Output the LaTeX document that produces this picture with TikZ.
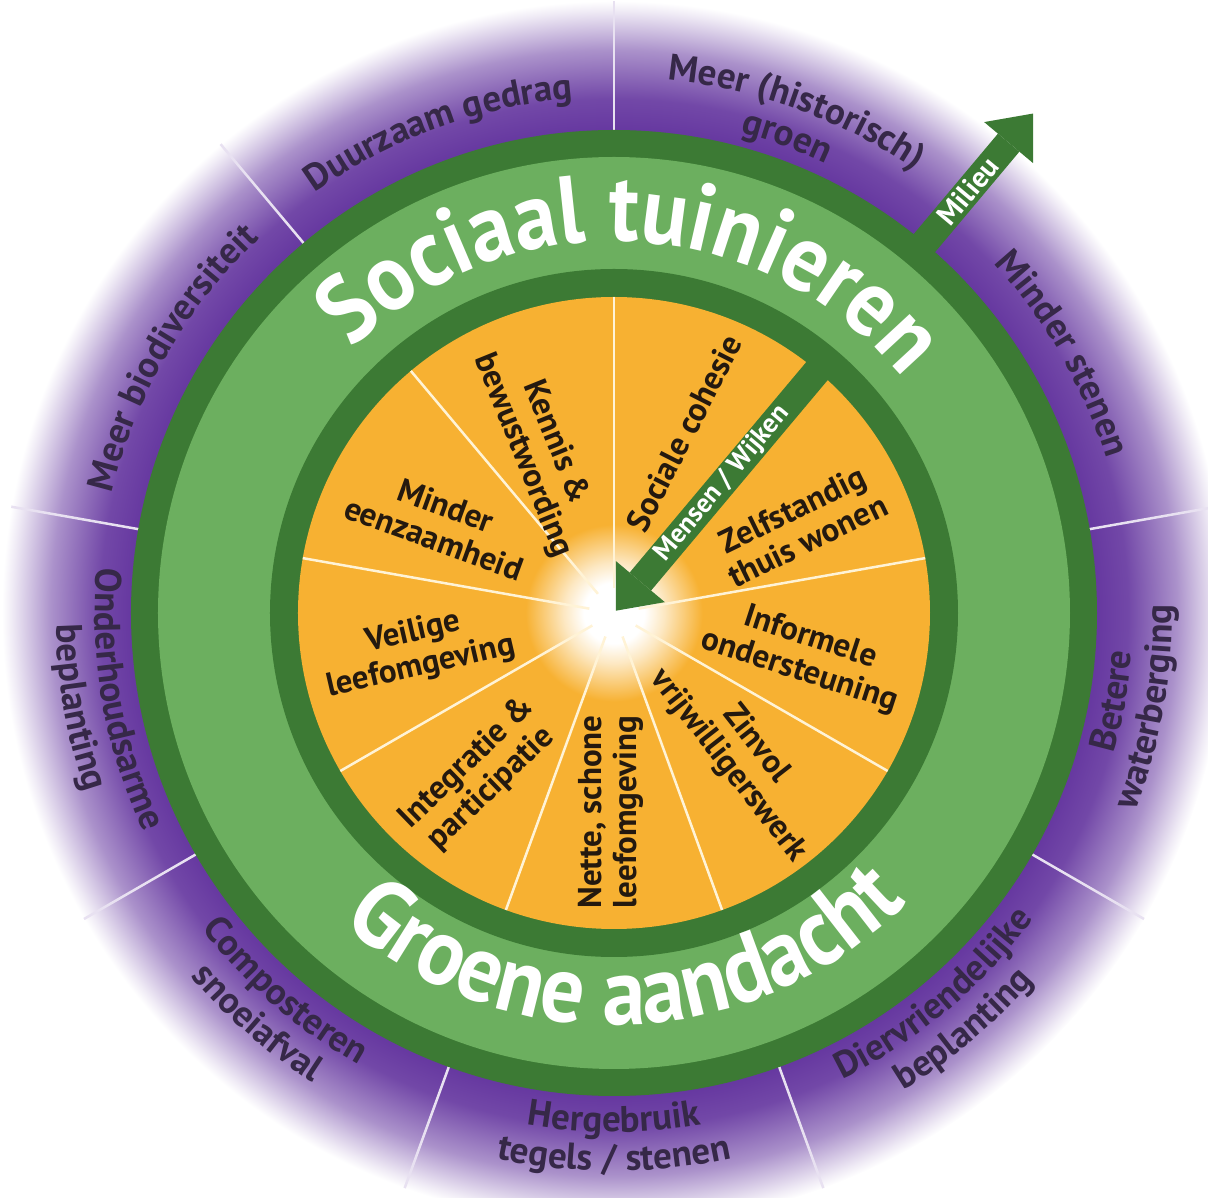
\documentclass[tikz,border=0pt]{standalone}
\usepackage{fontspec}
\setmainfont{PT Sans}
\newfontfamily\bannerfamily[FakeStretch=0.9]{PT Sans}
\usepackage{tikz}
\usetikzlibrary{arrows.meta}
\usetikzlibrary{decorations.text}

\definecolor{ringpurple}{HTML}{6638A0}
\definecolor{darkgreen}{HTML}{3C7A34}
\definecolor{lightgreen}{HTML}{6CAF5F}
\definecolor{discorange}{HTML}{F7B132}
\definecolor{purpletext}{HTML}{362848}
\definecolor{disctext}{HTML}{24190F}
\definecolor{spokecream}{HTML}{FFF3D6}

\pgfdeclareradialshading{purplefade}{\pgfpointorigin}{color(0bp)=(ringpurple); color(19.7bp)=(ringpurple); color(21.0bp)=(ringpurple!92!white); color(23.0bp)=(ringpurple!55!white); color(24.6bp)=(ringpurple!10!white); color(25bp)=(white); color(50bp)=(white)}
\pgfdeclareradialshading{orangeglow}{\pgfpointorigin}{color(0bp)=(white); color(2.4bp)=(white); color(4bp)=(discorange!30!white); color(7bp)=(discorange); color(25bp)=(discorange); color(50bp)=(discorange)}

\newcommand{\disclabelfont}{\bfseries\fontsize{33}{35}\selectfont}
\newcommand{\ringlabelfont}{\bfseries\fontsize{37}{40}\selectfont}
\newcommand{\bannerfont}{\bannerfamily\bfseries\fontsize{96}{106}\selectfont}
\newcommand{\mensenfont}{\bfseries\fontsize{27}{30}\selectfont}
\newcommand{\milieufont}{\bfseries\fontsize{29}{32}\selectfont}

\tikzset{
  ringspoke/.style={draw=white!85!ringpurple, line width=2.5pt},
  discspoke/.style={draw=spokecream, line width=2.5pt},
  ringtext/.style={decorate, decoration={text along path, text align=center,
      text color=purpletext, text={|\ringlabelfont|#1}}},
  bannertext/.style={decorate, decoration={text along path, text align=center,
      text color=white, text={|\bannerfont|#1}}},
  arrowlabel/.style={text=white, inner sep=0pt}
}

\begin{document}
\begin{tikzpicture}[x=1pt, y=1pt]
\useasboundingbox (-614,-585) rectangle (594,613);

% rings
\shade[shading=purplefade] (0,0) circle (612pt);
\foreach \a in {10,90,130,170,210,250,290,330}
  \draw[ringspoke] (\a:482pt) -- (\a:612pt);
\fill[darkgreen] (0,0) circle (483pt);
\fill[lightgreen] (0,0) circle (456pt);
\fill[darkgreen] (0,0) circle (344pt);
\shade[shading=orangeglow] (0,0) circle (316pt);
\foreach \a in {10,90,130,170,210,250,290,330}
  \draw[discspoke] (\a:25pt) -- (\a:316pt);

% arrows
\coordinate (mensenBase) at (50:335pt);
\coordinate (mensenTip) at (50:3pt);
\coordinate (milieuBase) at (50:465pt);
\coordinate (milieuTip) at (50:652pt);

\begin{scope}[>={Triangle[width=64pt,length=38pt,line width=0pt]},
              every edge/.style={draw=darkgreen, line width=28pt}]
    \path [->] (mensenBase) edge node[arrowlabel, font=\mensenfont, pos=0.5, sloped, name=mensenLabel] {Mensen / Wijken} (mensenTip);
    \path [->] (milieuBase) edge node[arrowlabel, font=\milieufont, pos=0.46, sloped, name=milieuLabel] {Milieu} (milieuTip);
\end{scope}

% banner texts
\path[bannertext={Sociaal tuinieren}] (167:372pt) arc[start angle=167, end angle=7, radius=372pt];
\path[bannertext={Groene aandacht}] (192:412pt) arc[start angle=192, end angle=352, radius=412pt];

% outer ring labels
\path[ringtext={Meer (historisch)}] (105:536pt) arc[start angle=105, end angle=35, radius=536pt];
\path[ringtext={groen}] (105:497pt) arc[start angle=105, end angle=35, radius=497pt];
\path[ringtext={Minder stenen}] (65:516pt) arc[start angle=65, end angle=-5, radius=516pt];
\path[ringtext={Betere}] (315:519pt) arc[start angle=315, end angle=385, radius=519pt];
\path[ringtext={waterberging}] (315:558pt) arc[start angle=315, end angle=385, radius=558pt];
\path[ringtext={Diervriendelijke}] (275:519pt) arc[start angle=275, end angle=345, radius=519pt];
\path[ringtext={beplanting}] (275:558pt) arc[start angle=275, end angle=345, radius=558pt];
\path[ringtext={Hergebruik}] (235:519pt) arc[start angle=235, end angle=305, radius=519pt];
\path[ringtext={tegels / stenen}] (235:558pt) arc[start angle=235, end angle=305, radius=558pt];
\path[ringtext={Composteren}] (194:519pt) arc[start angle=194, end angle=264, radius=519pt];
\path[ringtext={snoeiafval}] (194:558pt) arc[start angle=194, end angle=264, radius=558pt];
\path[ringtext={Onderhoudsarme}] (155:519pt) arc[start angle=155, end angle=225, radius=519pt];
\path[ringtext={beplanting}] (155:558pt) arc[start angle=155, end angle=225, radius=558pt];
\path[ringtext={Meer biodiversiteit}] (185:516pt) arc[start angle=185, end angle=115, radius=516pt];
\path[ringtext={Duurzaam gedrag}] (145:516pt) arc[start angle=145, end angle=75, radius=516pt];

% disc labels
\begin{scope}[every node/.style={font=\disclabelfont, text=disctext, align=center, inner sep=0pt}]
    \node[rotate=-68] (kennis) at (-75,164) {Kennis \&\\bewustwording};
    \node[rotate=63] (sociale) at (70,180) {Sociale cohesie};
    \node[rotate=26] (zelfstandig) at (186,88) {Zelfstandig\\thuis wonen};
    \node[rotate=-18] (informele) at (191,-42) {Informele\\ondersteuning};
    \node[rotate=-52] (zinvol) at (128,-142) {Zinvol\\vrijwilligerswerk};
    \node[rotate=90] (nette) at (-3,-199) {Nette, schone\\leefomgeving};
    \node[rotate=44] (integratie) at (-135,-163) {Integratie \&\\participatie};
    \node[rotate=13] (veilige) at (-197,-37) {Veilige\\leefomgeving};
    \node[rotate=-20] (minder) at (-174,91) {Minder\\eenzaamheid};
\end{scope}

\end{tikzpicture}
\end{document}
